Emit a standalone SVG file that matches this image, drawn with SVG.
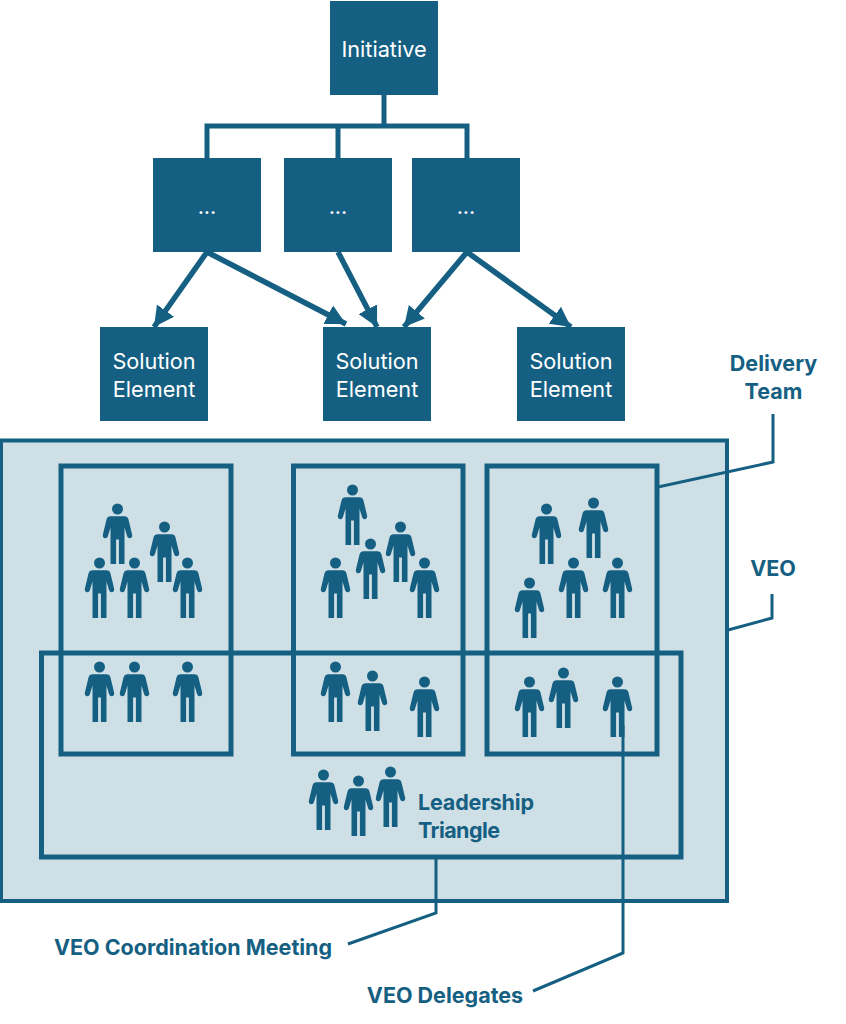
<svg xmlns="http://www.w3.org/2000/svg" width="846" height="1024" viewBox="0 0 846 1024">
<style>
.box{fill:#156082}
.t{font-family:"Inter","Noto Sans","Liberation Sans",sans-serif;font-size:21.700px;fill:#fff;text-anchor:middle}
.l{font-family:"Inter","Noto Sans","Liberation Sans",sans-serif;font-size:21.500px;font-weight:700;fill:#156082;text-anchor:middle}
.s{text-anchor:start}
.c{fill:none;stroke:#156082;stroke-width:5}
.a{fill:none;stroke:#156082;stroke-width:5.500;marker-end:url(#ah)}
.f{fill:none;stroke:#156082;stroke-width:3}
.g{fill:none;stroke:#156082;stroke-width:5}
</style>
<defs>
<marker id="ah" markerUnits="userSpaceOnUse" markerWidth="24" markerHeight="24" refX="20" refY="12" orient="auto"><path d="M0,1.500 L20,12 L0,22.500 Z" fill="#156082"/></marker>
<symbol id="p" overflow="visible" viewBox="-15 -6 30 62" width="30" height="62">
<circle cx="0" cy="0" r="5.500" fill="#156082"/>
<path fill="#156082" d="M-7,7.300 H7 Q10,7.300 11,10.500 L14.600,25.500 Q15.200,28.600 12.600,29.200 Q10.400,29.600 9.600,27.200 L7,18.500 V55 H1.400 V30.500 H-1.400 V55 H-7 V18.500 L-9.600,27.200 Q-10.400,29.600 -12.600,29.200 Q-15.200,28.600 -14.600,25.500 L-11,10.500 Q-10,7.300 -7,7.300 Z"/>
</symbol>
</defs>
<g id="connectors-top">
<path class="c" d="M384,95 V126 M207,158 V126 H467 V158 M338,126 V158"/>
<path class="a" d="M207,252 L154,327"/>
<path class="a" d="M207,252 L346,324"/>
<path class="a" d="M338,252 L377,327"/>
<path class="a" d="M467,252 L404,327"/>
<path class="a" d="M467,252 L571,327"/>
</g>
<g id="initiative"><rect class="box" x="330" y="1" width="108" height="94"/><text class="t" x="384" y="57">Initiative</text></g>
<g id="mid-1"><rect class="box" x="153" y="158" width="108" height="94"/><text class="t" x="207" y="214">...</text></g>
<g id="mid-2"><rect class="box" x="284" y="158" width="108" height="94"/><text class="t" x="338" y="214">...</text></g>
<g id="mid-3"><rect class="box" x="412" y="158" width="108" height="94"/><text class="t" x="466" y="214">...</text></g>
<g id="solution-1"><rect class="box" x="100" y="327" width="108" height="94"/><text class="t" x="154" y="369">Solution</text><text class="t" x="154" y="397">Element</text></g>
<g id="solution-2"><rect class="box" x="323" y="327" width="108" height="94"/><text class="t" x="377" y="369">Solution</text><text class="t" x="377" y="397">Element</text></g>
<g id="solution-3"><rect class="box" x="517" y="327" width="108" height="94"/><text class="t" x="571" y="369">Solution</text><text class="t" x="571" y="397">Element</text></g>
<g id="veo"><rect x="1" y="440.500" width="726" height="460.500" fill="#cfdfe6" stroke="#156082" stroke-width="4"/></g>
<g id="team-1"><rect class="g" x="61" y="466" width="170" height="288"/></g>
<g id="team-2"><rect class="g" x="293.500" y="466" width="169.500" height="288"/></g>
<g id="team-3"><rect class="g" x="487" y="466" width="170" height="288"/></g>
<g id="coordination"><rect class="g" x="41.500" y="653" width="639.500" height="204"/></g>
<g id="people" transform="translate(0.500 0)">
<use href="#p" x="102" y="503"/><use href="#p" x="149" y="521"/><use href="#p" x="84" y="557"/><use href="#p" x="119" y="557"/><use href="#p" x="172" y="557"/>
<use href="#p" x="84" y="661"/><use href="#p" x="119" y="661"/><use href="#p" x="172" y="661"/>
<use href="#p" x="337" y="484"/><use href="#p" x="355" y="538"/><use href="#p" x="385" y="521"/><use href="#p" x="320" y="557"/><use href="#p" x="409" y="557"/>
<use href="#p" x="320" y="661"/><use href="#p" x="357" y="670"/><use href="#p" x="409" y="676"/>
<use href="#p" x="531" y="503"/><use href="#p" x="578" y="497"/><use href="#p" x="558" y="557"/><use href="#p" x="602" y="557"/><use href="#p" x="514" y="577"/>
<use href="#p" x="514" y="676"/><use href="#p" x="548" y="667"/><use href="#p" x="602" y="676"/>
<use href="#p" x="308" y="769"/><use href="#p" x="343" y="775"/><use href="#p" x="375" y="766"/>
</g>
<g id="leader-lines">
<path class="f" d="M773,414 V462 L658,487"/>
<path class="f" d="M772,594 V618 L728,630"/>
<path class="f" d="M436,858 V913 L348,944"/>
<path class="f" d="M623,725 V953 L533,991"/>
</g>
<g id="labels">
<text class="l" x="773.500" y="371">Delivery</text><text class="l" x="773.500" y="399">Team</text>
<text class="l" x="773" y="576">VEO</text>
<text class="l s" x="418" y="810" textLength="116">Leadership</text><text class="l s" x="418" y="838" textLength="82">Triangle</text>
<text class="l" x="193" y="955">VEO Coordination Meeting</text>
<text class="l" x="445" y="1003">VEO Delegates</text>
</g>
</svg>
